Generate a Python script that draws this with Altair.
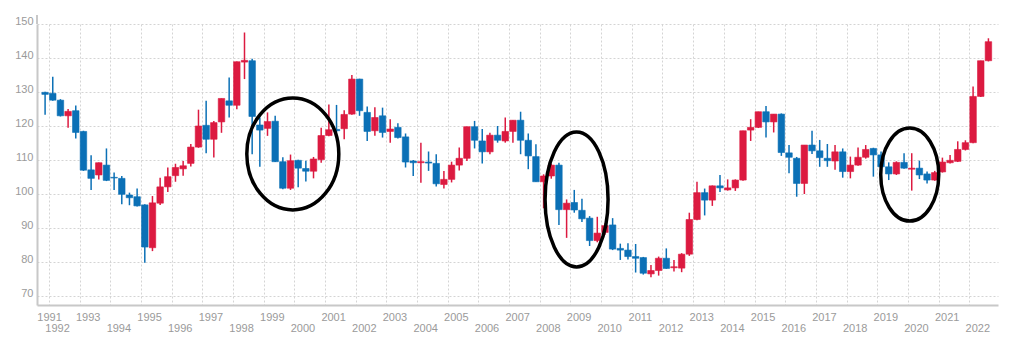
import altair as alt
import pandas as pd

# Quarterly candles, 1991Q4 .. 2022Q3
periods = [str(p) for p in pd.period_range("1991Q4", periods=124, freq="Q")]

opens = [
    129.9, 129.6, 127.6, 123.0, 124.5,
    118.4, 107.1, 105.6, 108.5,
    104.9, 104.6, 99.7, 99.2,
    96.8, 84.2, 97.3, 102.1,
    105.4, 107.4, 109.0, 113.8,
    120.2, 116.1, 121.2, 127.4,
    126.1, 138.8, 139.2, 120.3,
    119.3, 121.4, 109.5, 101.7,
    109.9, 107.5, 106.7, 110.1,
    117.2, 119.0, 119.2, 123.5,
    133.8, 124.0, 118.6, 123.0,
    118.4, 119.6, 116.8, 109.7,
    109.2, 109.4, 109.0, 102.8,
    104.3, 108.5, 110.5, 119.8,
    115.6, 112.4, 117.3, 115.6,
    118.4, 121.7, 115.8, 111.0,
    103.6, 105.3, 108.5, 95.4,
    97.5, 95.2, 92.9, 86.3,
    88.7, 90.9, 84.0, 83.5,
    81.6, 81.3, 76.5, 77.5,
    81.1, 78.3, 78.2, 82.3,
    92.5, 100.4, 98.2, 102.4,
    101.2, 101.8, 104.1, 118.8,
    119.6, 124.2, 121.2, 123.5,
    112.1, 110.5, 103.1, 114.4,
    112.7, 110.5, 109.7, 112.4,
    106.6, 108.5, 110.8, 113.4,
    111.5, 108.0, 105.9, 109.3,
    107.3, 107.6, 105.9, 104.1,
    106.5, 109.2, 109.6, 113.1,
    115.1, 128.7, 139.2,
]
highs = [
    130.1, 134.5, 127.9, 125.0, 126.0,
    118.6, 111.4, 109.3, 113.4,
    106.3, 105.3, 100.4, 101.6,
    97.0, 99.4, 104.8, 107.8,
    108.9, 109.7, 114.7, 124.8,
    127.4, 121.5, 128.1, 134.3,
    139.0, 147.5, 139.8, 122.5,
    124.0, 123.0, 110.8, 111.6,
    110.1, 109.8, 110.9, 119.5,
    126.3, 126.2, 124.6, 135.0,
    133.9, 125.7, 125.5, 125.4,
    122.0, 120.8, 117.8, 110.0,
    115.1, 112.5, 111.7, 106.8,
    109.5, 113.7, 119.8, 121.5,
    119.1, 118.0, 120.0, 122.5,
    121.7, 124.2, 117.8, 114.6,
    105.8, 109.0, 109.2, 98.4,
    101.2, 98.6, 93.5, 93.3,
    91.4, 92.9, 85.4, 85.5,
    85.3, 81.5, 79.1, 81.6,
    84.0, 80.6, 82.6, 94.5,
    103.6, 101.6, 102.5, 105.6,
    104.3, 104.3, 118.6, 122.0,
    124.2, 125.9, 123.5, 123.7,
    114.4, 110.9, 114.4, 118.6,
    115.9, 114.7, 114.4, 113.4,
    111.0, 113.7, 114.4, 113.6,
    112.5, 109.3, 109.6, 112.0,
    112.0, 109.8, 106.6, 106.8,
    110.7, 111.5, 115.5, 115.8,
    131.6, 139.2, 145.8,
]
lows = [
    123.3, 127.4, 122.8, 119.5, 116.3,
    106.8, 101.2, 104.3, 103.8,
    101.2, 97.0, 96.7, 96.3,
    79.8, 83.2, 96.8, 100.6,
    103.6, 105.4, 108.1, 113.6,
    112.0, 110.7, 118.0, 122.5,
    124.9, 133.8, 111.7, 108.0,
    117.1, 109.4, 101.4, 101.2,
    102.0, 103.7, 104.6, 109.2,
    117.0, 118.3, 116.1, 123.3,
    123.0, 115.6, 117.1, 116.6,
    115.1, 116.3, 107.8, 105.3,
    103.3, 106.8, 102.2, 101.6,
    103.4, 106.9, 109.7, 113.4,
    109.0, 111.7, 115.1, 115.1,
    115.1, 111.7, 107.3, 103.6,
    95.8, 104.5, 90.9, 87.1,
    94.5, 91.8, 84.7, 85.8,
    88.0, 83.5, 80.6, 80.7,
    76.9, 76.3, 75.5, 76.0,
    78.0, 77.2, 77.0, 81.8,
    92.3, 93.7, 96.5, 100.6,
    101.0, 100.9, 103.9, 115.6,
    119.4, 116.6, 118.1, 111.2,
    106.1, 99.2, 100.0, 111.8,
    108.0, 108.0, 107.1, 104.8,
    104.6, 108.3, 110.4, 105.1,
    107.0, 104.1, 105.6, 107.4,
    101.0, 104.4, 103.1, 103.9,
    106.3, 109.0, 109.4, 112.8,
    114.9, 128.5, 139.0,
]
closes = [
    129.3, 127.6, 123.0, 124.3, 118.1,
    107.0, 104.6, 109.2, 104.0,
    104.7, 99.9, 98.9, 96.5,
    84.4, 97.4, 102.1, 105.1,
    107.8, 108.3, 113.8, 120.0,
    116.1, 121.0, 128.1, 126.1,
    138.9, 139.3, 122.8, 118.8,
    121.3, 109.5, 101.7, 109.8,
    107.6, 106.7, 110.3, 117.2,
    118.9, 118.6, 123.4, 133.8,
    124.5, 118.4, 122.5, 118.1,
    119.1, 116.6, 109.4, 109.2,
    109.5, 109.1, 103.0, 104.3,
    108.5, 110.5, 119.8, 115.8,
    112.4, 117.3, 115.8, 118.4,
    121.7, 115.8, 111.2, 103.6,
    105.3, 108.5, 95.4, 97.3,
    95.3, 92.7, 86.3, 88.5,
    90.7, 83.8, 83.5, 81.6,
    81.1, 76.7, 77.5, 81.1,
    78.1, 78.6, 82.3, 92.5,
    100.4, 98.2, 102.4, 101.8,
    101.8, 104.1, 118.6, 119.6,
    124.2, 121.2, 123.5, 112.2,
    110.8, 103.1, 114.4, 112.7,
    110.7, 109.8, 112.4, 106.6,
    108.5, 110.8, 113.1, 111.5,
    108.0, 105.9, 109.3, 107.6,
    107.6, 105.6, 104.1, 106.3,
    109.4, 109.9, 113.1, 115.1,
    128.7, 139.2, 144.8,
]

year_labels = list(range(1991, 2023))
grid_years = list(range(1992, 2023))
y_ticks = list(range(70, 151, 10))

# highlighted periods (ellipse annotations): centre time, centre value
hl_t = [1999.95, 2009.20, 2020.06]
hl_v = [111.8, 98.4, 105.7]
hl_w = [92, 63, 58]
hl_h = [112, 135, 93]

RED = "#dc1a40"
BLUE = "#0b70b6"
GRID = "#d4d4d4"
AXIS = "#c8c8c8"
TXT = "#9a9a9a"
FONT = "Liberation Sans"

df = pd.DataFrame({"period": periods, "open": opens, "high": highs,
                   "low": lows, "close": closes})
df["t"] = [int(p[:4]) + (int(p[5]) - 0.5) / 4 for p in periods]
df["dir"] = ["up" if c >= o else "down" for o, c in zip(opens, closes)]

W, H = 961, 281
x0 = 1992 - 7 / 31
xscale = alt.Scale(domain=[x0, x0 + W / 31], nice=False, zero=False)
yscale = alt.Scale(domain=[150 - H / 3.4, 150], nice=False, zero=False)
cscale = alt.Scale(domain=["up", "down"], range=[RED, BLUE])

xaxis = alt.Axis(values=grid_years, labels=False, ticks=False, title=None,
                 grid=True, gridColor=GRID, gridDash=[2, 2], gridWidth=1,
                 domainColor=AXIS, domainWidth=2, tickCount=31)
yaxis = alt.Axis(values=y_ticks, title=None, ticks=False, grid=True,
                 gridColor=GRID, gridDash=[2, 2], gridWidth=1,
                 domainColor=AXIS, domainWidth=2, labelColor=TXT,
                 labelFont=FONT, labelFontSize=11, labelPadding=4,
                 labelBaseline="alphabetic", labelOverlap=False, tickCount=9)

base = alt.Chart(df)

wicks = base.mark_rule(strokeWidth=1.5).encode(
    x=alt.X("t:Q", scale=xscale, axis=xaxis),
    y=alt.Y("low:Q", scale=yscale, axis=yaxis),
    y2="high:Q",
    color=alt.Color("dir:N", scale=cscale, legend=None),
)

bodies = base.mark_bar(size=6.5).encode(
    x=alt.X("t:Q", scale=xscale, axis=xaxis),
    y=alt.Y("open:Q", scale=yscale, axis=yaxis),
    y2="close:Q",
    color=alt.Color("dir:N", scale=cscale, legend=None),
    stroke=alt.Stroke("dir:N", scale=cscale, legend=None),
    strokeWidth=alt.value(0.6),
)

lab_df = pd.DataFrame({"year": year_labels})
labels_odd = alt.Chart(lab_df).transform_filter("datum.year % 2 == 1").transform_calculate(
    t="max(datum.year + 0.28, 1992.02)"
).mark_text(font=FONT, fontSize=11, color=TXT, baseline="alphabetic").encode(
    x=alt.X("t:Q", scale=xscale, axis=xaxis), y=alt.value(297), text="year:N")
labels_even = alt.Chart(lab_df).transform_filter("datum.year % 2 == 0").transform_calculate(
    t="max(datum.year + 0.28, 1992.02)"
).mark_text(font=FONT, fontSize=11, color=TXT, baseline="alphabetic").encode(
    x=alt.X("t:Q", scale=xscale, axis=xaxis), y=alt.value(307.5), text="year:N")

axis_ext = alt.Chart(pd.DataFrame({"a": [0]})).mark_rule(color=AXIS, strokeWidth=2).encode(
    x=alt.value(0), y=alt.value(-9), y2=alt.value(0))

ellipses = []
for t, v, w, h in zip(hl_t, hl_v, hl_w, hl_h):
    r = h / w
    path = f"M-1,0A1,{r:.4f} 0 1,1 1,0A1,{r:.4f} 0 1,1 -1,0Z"
    e = alt.Chart(pd.DataFrame({"t": [t], "v": [v]})).mark_point(
        shape=path, size=w * w, filled=False, color="black",
        strokeWidth=3.5, opacity=1).encode(
        x=alt.X("t:Q", scale=xscale, axis=xaxis), y=alt.Y("v:Q", scale=yscale, axis=yaxis))
    ellipses.append(e)

chart = alt.layer(wicks, bodies, labels_odd, labels_even, axis_ext, *ellipses).properties(
    width=W, height=H,
    autosize=alt.AutoSizeParams(type="none"),
    padding={"left": 29, "top": 16, "right": 10, "bottom": 40},
).configure_view(stroke=None)

chart.save("out.html", embed_options={"renderer": "svg", "actions": False})
